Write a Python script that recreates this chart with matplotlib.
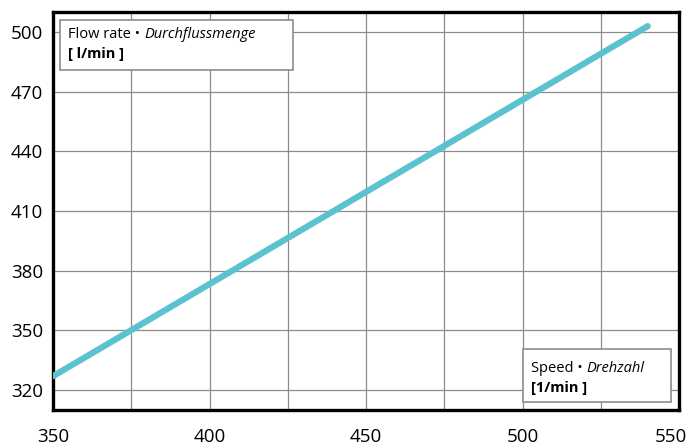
import matplotlib
matplotlib.use("Agg")
import matplotlib.pyplot as plt
import matplotlib.transforms as mtransforms
from matplotlib.patches import Rectangle

speed = [350, 540]
flow = [327, 503]
x_ticks = [350, 400, 450, 500, 550]
y_ticks = [320, 350, 380, 410, 440, 470, 500]
x_grid = [350, 375, 400, 425, 450, 475, 500, 525, 550]

plt.rcParams['font.family'] = ['Open Sans', 'DejaVu Sans']

fig = plt.figure(figsize=(6.91, 4.48), dpi=100)
ax = fig.add_axes([0.0767, 0.0848, 0.906, 0.888])
ax.set_xlim(350, 550)
ax.set_ylim(310, 510)
ax.set_xticks(x_grid)
ax.set_xticklabels([str(v) if v in x_ticks else '' for v in x_grid])
ax.set_yticks(y_ticks)
ax.grid(True, color='#8c8c8c', linewidth=0.9)
ax.set_axisbelow(True)
ax.tick_params(length=0, labelsize=13.5, colors='black')
ax.tick_params(axis='x', pad=13)
ax.tick_params(axis='y', pad=7)
for s in ax.spines.values():
    s.set_linewidth(2.4)
    s.set_color('black')

# shift the last x label left so it stays inside the figure
last = ax.get_xticklabels()[-1]
last.set_transform(last.get_transform() + mtransforms.ScaledTranslation(-8/100, 0, fig.dpi_scale_trans))

ax.plot(speed, flow, color='#5bc3cf', linewidth=4.5, solid_capstyle='round', zorder=3)

fs = 10.5
# top-left box
ax.add_patch(Rectangle((0.011, 0.855), 0.372, 0.125, transform=ax.transAxes,
                       facecolor='white', edgecolor='#8c8c8c', linewidth=1.2, zorder=4))
t1 = ax.text(0.024, 0.935, 'Flow rate \u2022 ', transform=ax.transAxes, fontsize=fs,
             va='baseline', ha='left', zorder=5)
ax.annotate('Durchflussmenge', xy=(1, 0), xycoords=t1, va='bottom', ha='left',
            fontsize=fs, style='italic', zorder=5)
ax.text(0.024, 0.884, '[ l/min ]', transform=ax.transAxes, fontsize=fs,
        fontweight='bold', va='baseline', ha='left', zorder=5)

# bottom-right box
ax.add_patch(Rectangle((0.751, 0.02), 0.236, 0.133, transform=ax.transAxes,
                       facecolor='white', edgecolor='#8c8c8c', linewidth=1.2, zorder=4))
t2 = ax.text(0.7636, 0.0955, 'Speed \u2022 ', transform=ax.transAxes, fontsize=fs,
             va='baseline', ha='left', zorder=5)
ax.annotate('Drehzahl', xy=(1, 0), xycoords=t2, va='bottom', ha='left',
            fontsize=fs, style='italic', zorder=5)
ax.text(0.7636, 0.045, '[1/min ]', transform=ax.transAxes, fontsize=fs,
        fontweight='bold', va='baseline', ha='left', zorder=5)

fig.savefig('out.png', dpi=100)
